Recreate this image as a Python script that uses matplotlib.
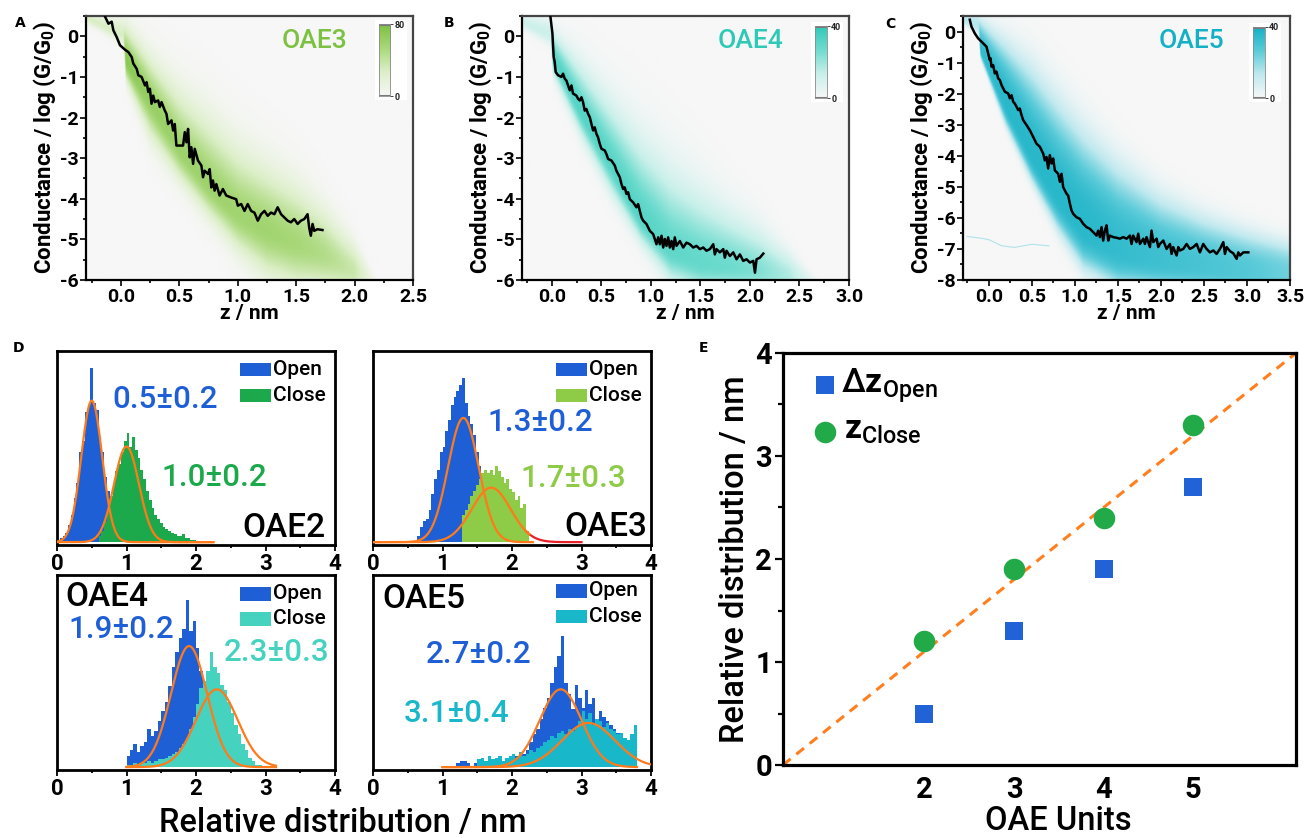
import numpy as np
import matplotlib
matplotlib.use("Agg")
import matplotlib.pyplot as plt
from matplotlib.colors import LinearSegmentedColormap
from matplotlib.patches import Rectangle
from matplotlib.ticker import MultipleLocator, FormatStrFormatter

plt.rcParams["font.family"] = ["Roboto", "DejaVu Sans"]
plt.rcParams["font.weight"] = "bold"
plt.rcParams["axes.unicode_minus"] = False
plt.rcParams["mathtext.fontset"] = "custom"
plt.rcParams["mathtext.rm"] = "Roboto:medium"
plt.rcParams["mathtext.bf"] = "Roboto:bold"
plt.rcParams["mathtext.it"] = "Roboto:italic"

# ---------------------------------------------------------------- data
# representative single traces (z / nm, log G/G0)
oae3_trace_z = [-0.136, -0.108, -0.080, -0.066, -0.037, -0.009, 0.034, 0.063, 0.091, 0.105,
                0.134, 0.148, 0.176, 0.205, 0.219, 0.233, 0.247, 0.261, 0.276, 0.290,
                0.318, 0.332, 0.347, 0.375, 0.389, 0.403, 0.432, 0.446, 0.460, 0.474,
                0.503, 0.531, 0.546, 0.560, 0.574, 0.588, 0.602, 0.617, 0.631, 0.659,
                0.688, 0.702, 0.716, 0.745, 0.759, 0.773, 0.787, 0.801, 0.816, 0.844,
                0.872, 0.901, 0.944, 0.986, 1.000, 1.029, 1.057, 1.085, 1.114, 1.142,
                1.171, 1.199, 1.228, 1.256, 1.284, 1.313, 1.341, 1.370, 1.398, 1.427,
                1.455, 1.483, 1.512, 1.540, 1.569, 1.597, 1.611, 1.625, 1.640, 1.654,
                1.682, 1.725]
oae3_trace_g = [0.48, 0.31, 0.36, 0.15, -0.02, -0.22, -0.33, -0.39, -0.51, -0.67,
                -0.80, -0.96, -1.00, -1.21, -1.13, -1.37, -1.29, -1.66, -1.46, -1.62,
                -1.58, -1.74, -1.62, -1.83, -1.91, -2.16, -2.07, -2.32, -2.16, -2.69,
                -2.69, -2.69, -2.36, -2.61, -2.28, -2.98, -2.73, -3.14, -2.77, -3.06,
                -3.18, -3.47, -3.31, -3.39, -3.27, -3.72, -3.55, -3.80, -3.64, -3.92,
                -3.76, -3.92, -3.97, -4.01, -4.17, -4.13, -4.30, -4.13, -4.30, -4.34,
                -4.54, -4.38, -4.30, -4.42, -4.34, -4.38, -4.21, -4.38, -4.46, -4.54,
                -4.58, -4.50, -4.62, -4.54, -4.50, -4.38, -4.71, -4.91, -4.62, -4.79,
                -4.75, -4.77]

oae4_trace_z = [-0.013, 0.007, 0.014, 0.020, 0.030, 0.040, 0.064, 0.098, 0.114, 0.131,
                0.148, 0.165, 0.182, 0.199, 0.215, 0.249, 0.266, 0.283, 0.300, 0.316,
                0.333, 0.350, 0.367, 0.384, 0.401, 0.418, 0.434, 0.451, 0.468, 0.485,
                0.502, 0.535, 0.552, 0.569, 0.603, 0.636, 0.653, 0.670, 0.687, 0.704,
                0.721, 0.737, 0.754, 0.771, 0.788, 0.822, 0.855, 0.872, 0.889, 0.906,
                0.923, 0.956, 0.990, 1.024, 1.057, 1.074, 1.091, 1.108, 1.125, 1.141,
                1.158, 1.175, 1.192, 1.209, 1.226, 1.242, 1.259, 1.293, 1.327, 1.360,
                1.394, 1.428, 1.461, 1.495, 1.529, 1.562, 1.596, 1.630, 1.646, 1.663,
                1.697, 1.731, 1.747, 1.764, 1.798, 1.832, 1.865, 1.899, 1.933, 1.966,
                2.000, 2.034, 2.051, 2.067, 2.101, 2.135]
oae4_trace_g = [0.48, 0.07, -0.26, -0.51, -0.63, -0.88, -0.96, -1.00, -0.92, -1.04,
                -1.09, -1.21, -1.33, -1.21, -1.41, -1.46, -1.54, -1.58, -1.50, -1.62,
                -1.83, -1.79, -1.91, -1.99, -2.16, -2.32, -2.24, -2.40, -2.49, -2.65,
                -2.77, -2.81, -2.90, -3.02, -3.06, -3.18, -3.31, -3.39, -3.47, -3.64,
                -3.76, -3.72, -3.88, -3.84, -4.01, -4.09, -4.21, -4.13, -4.30, -4.46,
                -4.54, -4.62, -4.79, -4.87, -5.12, -4.95, -5.12, -4.91, -5.20, -4.99,
                -5.16, -4.95, -5.20, -5.04, -5.24, -4.95, -5.16, -5.04, -5.20, -5.08,
                -5.12, -5.20, -5.16, -5.24, -5.20, -5.28, -5.24, -5.12, -5.37, -5.24,
                -5.32, -5.24, -5.45, -5.28, -5.41, -5.32, -5.49, -5.37, -5.53, -5.49,
                -5.57, -5.53, -5.82, -5.49, -5.45, -5.35]

oae5_trace_z = [-0.221, -0.202, -0.163, -0.124, -0.066, -0.027, -0.008, 0.012, 0.019, 0.031,
                0.050, 0.070, 0.089, 0.109, 0.128, 0.147, 0.167, 0.186, 0.225, 0.244,
                0.264, 0.283, 0.302, 0.322, 0.341, 0.360, 0.380, 0.399, 0.438, 0.477,
                0.515, 0.554, 0.593, 0.632, 0.651, 0.670, 0.690, 0.709, 0.729, 0.748,
                0.767, 0.806, 0.826, 0.845, 0.864, 0.903, 0.922, 0.942, 0.961, 0.981,
                1.019, 1.058, 1.097, 1.136, 1.174, 1.213, 1.252, 1.271, 1.291, 1.310,
                1.329, 1.349, 1.368, 1.388, 1.407, 1.446, 1.484, 1.523, 1.562, 1.601,
                1.640, 1.659, 1.678, 1.717, 1.736, 1.756, 1.795, 1.814, 1.833, 1.872,
                1.891, 1.911, 1.950, 1.969, 1.988, 2.027, 2.066, 2.105, 2.124, 2.143,
                2.182, 2.202, 2.221, 2.260, 2.298, 2.337, 2.376, 2.415, 2.453, 2.492,
                2.531, 2.570, 2.609, 2.647, 2.686, 2.725, 2.744, 2.764, 2.802, 2.841,
                2.880, 2.899, 2.919, 2.958, 3.016]
oae5_trace_g = [0.38, 0.16, -0.06, -0.22, -0.38, -0.49, -0.70, -0.92, -0.86, -1.13,
                -1.08, -1.35, -1.29, -1.51, -1.56, -1.72, -1.83, -1.94, -1.99, -2.15,
                -2.05, -2.26, -2.32, -2.42, -2.53, -2.48, -2.69, -2.85, -3.01, -3.18,
                -3.39, -3.61, -3.71, -3.93, -4.15, -4.04, -4.41, -3.98, -4.25, -4.09,
                -4.47, -4.58, -4.84, -4.58, -5.01, -5.22, -5.28, -5.54, -5.76, -5.87,
                -5.98, -6.03, -6.19, -6.30, -6.35, -6.46, -6.57, -6.41, -6.62, -6.30,
                -6.73, -6.41, -6.24, -6.73, -6.57, -6.62, -6.64, -6.67, -6.62, -6.67,
                -6.57, -6.84, -6.57, -6.78, -6.51, -6.84, -6.67, -6.84, -6.62, -6.94,
                -6.41, -6.78, -6.67, -6.94, -6.84, -6.73, -7.00, -6.84, -7.16, -6.94,
                -7.21, -6.94, -7.05, -7.00, -6.84, -7.00, -6.94, -6.84, -7.11, -6.84,
                -7.00, -7.11, -7.05, -7.16, -7.00, -6.78, -7.16, -6.94, -7.07, -7.14,
                -7.32, -7.11, -7.21, -7.11, -7.11]

# 2D trace-density bands: z knots with lower edge, densest ridge, upper edge, weight
oae3_band_z    = [-0.30, 0.02, 0.04, 0.25, 0.50, 0.75, 1.00, 1.25, 1.50, 1.75, 2.00, 2.20]
oae3_band_low  = [0.25, -0.30, -1.25, -2.8, -3.8, -4.7, -5.6, -6.3, -6.6, -6.6, -6.6, -6.6]
oae3_band_core = [0.45, 0.00, -0.60, -1.6, -2.8, -3.7, -4.4, -4.8, -5.1, -5.4, -5.8, -6.0]
oae3_band_high = [0.60, 0.60, 0.50, -0.2, -0.9, -1.5, -2.2, -2.7, -3.2, -3.9, -4.8, -6.0]
oae3_band_amp  = [0.35, 0.35, 0.90, 0.80, 0.75, 0.75, 0.72, 0.72, 0.68, 0.60, 0.45, 0.00]

oae4_band_z    = [-0.30, -0.01, 0.01, 0.30, 0.60, 0.90, 1.20, 1.50, 1.80, 2.10, 2.40, 2.70]
oae4_band_low  = [0.10, -0.35, -1.10, -2.7, -4.1, -5.3, -6.3, -6.6, -6.6, -6.6, -6.6, -6.6]
oae4_band_core = [0.35, 0.00, -0.50, -1.9, -3.2, -4.5, -5.3, -5.6, -5.7, -5.8, -5.9, -6.0]
oae4_band_high = [0.60, 0.60, 0.30, -0.4, -1.2, -2.0, -2.7, -3.3, -3.9, -4.4, -5.1, -6.0]
oae4_band_amp  = [0.30, 0.30, 0.80, 0.80, 0.80, 0.80, 0.75, 0.72, 0.68, 0.60, 0.42, 0.00]

oae5_band_z    = [-0.30, -0.12, -0.10, 0.20, 0.50, 0.80, 1.10, 1.50, 2.00, 2.50, 3.00, 3.50]
oae5_band_low  = [0.20, -0.20, -0.90, -3.2, -5.0, -6.6, -7.9, -8.5, -8.5, -8.5, -8.5, -8.5]
oae5_band_core = [0.40, 0.20, -0.60, -2.4, -4.0, -5.3, -6.3, -7.0, -7.4, -7.6, -7.8, -7.9]
oae5_band_high = [0.60, 0.60, 0.50, -0.1, -0.8, -1.8, -2.8, -3.9, -5.0, -5.7, -6.2, -6.6]
oae5_band_amp  = [0.35, 0.35, 0.85, 0.90, 0.90, 0.90, 0.90, 0.85, 0.80, 0.75, 0.70, 0.60]

oae5_stray_z = [-0.25, -0.10, 0.00, 0.15, 0.30, 0.50, 0.70]
oae5_stray_g = [-6.60, -6.65, -6.70, -6.90, -6.95, -6.85, -6.90]

colorbar_max = [80, 40, 40]

# relative distribution histograms (bin start, bin width, counts)
oae2_open_start, oae2_open_width = 0.0, 0.04
oae2_open_counts = [1, 2, 3, 5, 9, 14, 23, 31, 47, 53, 68, 72, 91, 73, 69, 55, 47, 34, 27, 16, 10, 4]
oae2_close_start, oae2_close_width = 0.60, 0.04
oae2_close_counts = [3, 6, 11, 17, 24, 30, 37, 41, 47, 53, 57, 50, 55, 48, 44, 38, 33, 27, 22, 18,
                     14, 12, 10, 8, 7, 6, 5, 4, 3, 3, 4, 2, 2, 1, 1]

oae3_open_start, oae3_open_width = 0.64, 0.04
oae3_open_counts = [3, 8, 11, 12, 17, 25, 33, 38, 47, 50, 58, 64, 72, 76, 79, 82, 86, 73, 66, 62,
                    56, 47, 40, 33, 26, 20, 14, 9, 5]
oae3_close_start, oae3_close_width = 1.28, 0.04
oae3_close_counts = [14, 17, 20, 24, 27, 30, 33, 36, 38, 36, 38, 35, 40, 37, 34, 31, 33, 28, 26, 22,
                     24, 18, 20, 6]

oae4_open_start, oae4_open_width = 1.0, 0.05
oae4_open_counts = [6, 9, 12, 8, 11, 13, 20, 16, 19, 24, 29, 34, 42, 52, 60, 67, 72, 87, 71, 76,
                    62, 50, 41, 33, 25, 18, 13, 9, 6, 4, 2, 1]
oae4_close_start, oae4_close_width = 1.0, 0.05
oae4_close_counts = [1, 1, 2, 1, 2, 2, 3, 2, 3, 4, 4, 5, 6, 7, 8, 10, 12, 15, 20, 26,
                     33, 41, 45, 50, 60, 52, 49, 43, 40, 34, 28, 22, 17, 12, 9, 5, 3, 1, 1, 0]

oae5_open_start, oae5_open_width = 1.0, 0.05
oae5_open_counts = [0, 0, 0, 0, 2, 3, 3, 2, 0, 2, 3, 2, 3, 4, 3, 2, 4, 3, 4, 5,
                    4, 6, 5, 7, 9, 13, 17, 20, 25, 31, 36, 44, 52, 58, 68, 44, 38, 30, 43, 36,
                    31, 40, 33, 36, 25, 29, 26, 24, 22, 20, 18, 16, 15, 14, 12, 10]
oae5_close_start, oae5_close_width = 1.0, 0.05
oae5_close_counts = [0, 0, 0, 0, 0, 0, 0, 0, 0, 0, 4, 5, 3, 6, 4, 5, 6, 3, 5, 6,
                     7, 5, 8, 6, 7, 9, 8, 10, 11, 13, 14, 16, 15, 18, 19, 17, 20, 19, 21, 24,
                     29, 25, 28, 22, 25, 24, 21, 23, 20, 19, 17, 18, 15, 14, 17, 22]

# Gaussian fits: centre and spread as printed, drawn width and peak height
open_mean   = [0.5, 1.3, 1.9, 2.7]
open_spread = [0.2, 0.2, 0.2, 0.2]
open_sigma  = [0.15, 0.22, 0.26, 0.30]
open_peak   = [74, 65, 63, 40.5]
close_mean   = [1.0, 1.7, 2.3, 3.1]
close_spread = [0.2, 0.3, 0.3, 0.4]
close_sigma  = [0.18, 0.28, 0.30, 0.38]
close_peak   = [50, 28.5, 40.5, 23]

# summary vs. number of OAE units
oae_units = [2, 3, 4, 5]
dz_open = [0.5, 1.3, 1.9, 2.7]
z_close = [1.2, 1.9, 2.4, 3.3]
fit_slope, fit_intercept = 0.698, -0.293

# ---------------------------------------------------------------- figure
W, H = 1305, 838
fig = plt.figure(figsize=(W / 100, H / 100), dpi=100)
fig.patch.set_facecolor("white")


def rect(l, t, r, b):
    return [l / W, 1 - b / H, (r - l) / W, (b - t) / H]


def bold_ticks(ax):
    for t in ax.get_xticklabels() + ax.get_yticklabels():
        t.set_fontweight("bold")


BLUE = "#1f5fd6"
ORANGE = "#ff7a1a"


def density_panel(box, xlim, ylim, band, shape, trace, colors, name, cbar_box, cmax,
                  letter, letter_xy):
    ax = fig.add_axes(rect(*box))
    cmap = LinearSegmentedColormap.from_list("band", colors)
    bz, blo, bco, bhi, bam = band
    power, scale = shape
    zz = np.linspace(xlim[0], xlim[1], 700)
    yy = np.linspace(ylim[0], ylim[1], 500)
    lo = np.interp(zz, bz, blo)
    co = np.interp(zz, bz, bco)
    hi = np.interp(zz, bz, bhi)
    am = np.interp(zz, bz, bam, left=0, right=0)
    Y = yy[:, None]
    wb = np.maximum(co - lo, 0.05) / scale
    wa = np.maximum(hi - co, 0.05) / scale
    d = np.where(Y < co, (Y - co) / wb, (Y - co) / wa)
    img = am * np.exp(-np.abs(d) ** power)
    ax.set_facecolor("#f7f7f7")
    ax.imshow(img, extent=[xlim[0], xlim[1], ylim[0], ylim[1]], origin="lower",
              aspect="auto", cmap=cmap, vmin=0, vmax=1, interpolation="bilinear", zorder=0)
    ax.plot(trace[0], trace[1], color="black", lw=1.8, zorder=3)
    ax.set_xlim(*xlim)
    ax.set_ylim(*ylim)
    ax.xaxis.set_major_locator(MultipleLocator(0.5))
    ax.xaxis.set_minor_locator(MultipleLocator(0.25))
    ax.xaxis.set_major_formatter(FormatStrFormatter("%.1f"))
    ax.yaxis.set_major_locator(MultipleLocator(1))
    ax.yaxis.set_minor_locator(MultipleLocator(0.5))
    ax.tick_params(which="both", direction="out", width=1.2, labelsize=14, pad=1.5)
    ax.tick_params(which="major", length=4)
    ax.tick_params(which="minor", length=2.5)
    bold_ticks(ax)
    for s in ax.spines.values():
        s.set_linewidth(1.6)
    ax.spines["top"].set_color("#444444")
    ax.spines["right"].set_color("#444444")
    ax.set_xlabel("z / nm", fontsize=15, fontweight="bold", labelpad=-1)
    ax.set_ylabel(r"Conductance / log (G/G$_\mathbf{0}$)", fontsize=16, fontweight="bold",
                  labelpad=1)
    ax.text(0.70, 0.905, name, transform=ax.transAxes, color=colors[-1], fontsize=19,
            fontweight="medium", ha="center", va="center")
    # colour scale
    ax.add_patch(Rectangle(((cbar_box[0] - 4 - box[0]) / (box[2] - box[0]),
                            (box[3] - cbar_box[3] - 4) / (box[3] - box[1])),
                           32 / (box[2] - box[0]), (cbar_box[3] - cbar_box[1] + 8) / (box[3] - box[1]),
                           transform=ax.transAxes, facecolor="white", edgecolor="none", zorder=2))
    cax = fig.add_axes(rect(*cbar_box))
    grad = np.linspace(0, 1, 200)[:, None]
    cax.imshow(grad, aspect="auto", origin="lower", cmap=cmap, extent=[0, 1, 0, cmax])
    cax.set_xticks([])
    cax.yaxis.tick_right()
    cax.set_yticks([0, cmax])
    cax.set_yticklabels(["0", str(cmax)])
    cax.tick_params(axis="y", length=2.5, width=0.6, pad=0.5, labelsize=6.5, colors="#222222")
    for s in cax.spines.values():
        s.set_color("#8a8a8a")
        s.set_linewidth(0.6)
    cax.axhline(cmax, color="#7a7a7a", lw=2.2)
    cax.axhline(0, color="#7a7a7a", lw=2.2)
    fig.text(letter_xy[0] / W, 1 - letter_xy[1] / H, letter, fontsize=10, fontweight="bold",
             ha="center", va="center", family="DejaVu Sans")
    return ax


axA = density_panel((86, 16, 413, 280), (-0.3, 2.5), (-6, 0.5),
                    (oae3_band_z, oae3_band_low, oae3_band_core, oae3_band_high, oae3_band_amp),
                    (2.0, 1.5), (oae3_trace_z, oae3_trace_g),
                    ["#f7f7f7", "#dcefc8", "#a9d87a", "#7dc142"], "OAE3",
                    (379, 24, 390, 96), colorbar_max[0], "A", (20, 23))
axB = density_panel((522, 16, 849, 280), (-0.3, 3.0), (-6, 0.5),
                    (oae4_band_z, oae4_band_low, oae4_band_core, oae4_band_high, oae4_band_amp),
                    (2.0, 1.5), (oae4_trace_z, oae4_trace_g),
                    ["#f7f7f7", "#c8f0ea", "#70dccf", "#2fc9b7"], "OAE4",
                    (815, 26, 827, 98), colorbar_max[1], "B", (449, 23))
axC = density_panel((963, 16, 1290, 280), (-0.3, 3.5), (-8, 0.5),
                    (oae5_band_z, oae5_band_low, oae5_band_core, oae5_band_high, oae5_band_amp),
                    (3.0, 1.25), (oae5_trace_z, oae5_trace_g),
                    ["#f7f7f7", "#bfe9ef", "#5ccbd9", "#14b0c5"], "OAE5",
                    (1253, 27, 1265, 98), colorbar_max[2], "C", (890, 24))
axC.plot(oae5_stray_z, oae5_stray_g, color="#8fdbe5", lw=0.8, alpha=0.7, zorder=1)


# ---------------------------------------------------------------- D: histograms
def edges(start, width, counts):
    return start + width * np.arange(len(counts) + 1)


def dist_panel(box, k, name, name_pos, open_hist, close_hist, close_color,
               open_txt_pos, close_txt_pos, legend_y, fit_ranges, close_tail=None):
    ax = fig.add_axes(rect(*box))
    o_start, o_w, o_counts = open_hist
    c_start, c_w, c_counts = close_hist
    ax.stairs(o_counts, edges(o_start, o_w, o_counts), fill=True, color=BLUE, lw=0, zorder=1)
    ax.stairs(c_counts, edges(c_start, c_w, c_counts), fill=True, color=close_color, lw=0, zorder=2)
    xo = np.linspace(*fit_ranges[0], 400)
    ax.plot(xo, open_peak[k] * np.exp(-0.5 * ((xo - open_mean[k]) / open_sigma[k]) ** 2),
            color=ORANGE, lw=1.6, zorder=4)
    xc = np.linspace(*fit_ranges[1], 400)
    ax.plot(xc, close_peak[k] * np.exp(-0.5 * ((xc - close_mean[k]) / close_sigma[k]) ** 2),
            color=ORANGE, lw=1.6, zorder=4)
    if close_tail is not None:
        xt = np.linspace(*close_tail, 200)
        ax.plot(xt, close_peak[k] * np.exp(-0.5 * ((xt - close_mean[k]) / close_sigma[k]) ** 2),
                color="#e8202a", lw=1.6, zorder=3)
    ax.set_xlim(0, 4)
    ax.set_ylim(-1.5, 100)
    ax.set_yticks([])
    ax.xaxis.set_major_locator(MultipleLocator(1))
    ax.xaxis.set_minor_locator(MultipleLocator(0.5))
    ax.tick_params(axis="x", which="both", direction="out", width=1.3, labelsize=16, pad=2)
    ax.tick_params(axis="x", which="major", length=4)
    ax.tick_params(axis="x", which="minor", length=2.5)
    bold_ticks(ax)
    for s in ax.spines.values():
        s.set_linewidth(2.0)
    ax.text(name_pos[0], name_pos[1], name, transform=ax.transAxes, fontsize=24,
            fontweight="medium", ha=name_pos[2], va="center")
    ax.text(open_txt_pos[0], open_txt_pos[1], f"{open_mean[k]:.1f}±{open_spread[k]:.1f}",
            transform=ax.transAxes, color=BLUE, fontsize=22.5, fontweight="medium",
            ha="center", va="center")
    ax.text(close_txt_pos[0], close_txt_pos[1], f"{close_mean[k]:.1f}±{close_spread[k]:.1f}",
            transform=ax.transAxes, color=close_color, fontsize=22.5, fontweight="medium",
            ha="center", va="center")
    for (lab, col, yc) in (("Open", BLUE, legend_y[0]), ("Close", close_color, legend_y[1])):
        ax.add_patch(Rectangle((0.659, yc - 0.034), 0.109, 0.068, transform=ax.transAxes,
                               facecolor=col, edgecolor="none", zorder=5))
        ax.text(0.778, yc, lab, transform=ax.transAxes, fontsize=15, fontweight="medium",
                ha="left", va="center", zorder=5)
    return ax


dist_panel((57, 351, 335, 545), 0, "OAE2", (0.965, 0.09, "right"),
           (oae2_open_start, oae2_open_width, oae2_open_counts),
           (oae2_close_start, oae2_close_width, oae2_close_counts), "#1ca94b",
           (0.39, 0.75), (0.566, 0.347), (0.903, 0.772), ((0.0, 2.25), (0.0, 2.25)))
dist_panel((373, 351, 651, 545), 1, "OAE3", (0.985, 0.095, "right"),
           (oae3_open_start, oae3_open_width, oae3_open_counts),
           (oae3_close_start, oae3_close_width, oae3_close_counts), "#8ecb47",
           (0.60, 0.63), (0.72, 0.345), (0.903, 0.772), ((0.0, 2.3), (0.0, 2.25)),
           close_tail=(2.2, 3.0))
dist_panel((57, 575, 335, 770), 2, "OAE4", (0.03, 0.887, "left"),
           (oae4_open_start, oae4_open_width, oae4_open_counts),
           (oae4_close_start, oae4_close_width, oae4_close_counts), "#45d3c0",
           (0.231, 0.718), (0.79, 0.605), (0.903, 0.775), ((1.0, 3.15), (1.0, 3.15)))
dist_panel((373, 575, 651, 770), 3, "OAE5", (0.035, 0.875, "left"),
           (oae5_open_start, oae5_open_width, oae5_open_counts),
           (oae5_close_start, oae5_close_width, oae5_close_counts), "#19b7ca",
           (0.379, 0.59), (0.30, 0.29), (0.918, 0.788), ((1.0, 3.8), (1.0, 4.0)))

fig.text(343 / W, 1 - 823 / H, "Relative distribution / nm", fontsize=23.5,
         fontweight="medium", ha="center", va="center")
fig.text(19 / W, 1 - 348 / H, "D", fontsize=10, fontweight="bold", ha="center", va="center",
         family="DejaVu Sans")

# ---------------------------------------------------------------- E: summary
axE = fig.add_axes(rect(783, 353, 1296, 765))
axE.set_xlim(0.42, 6.15)
axE.set_ylim(0, 4)
xl = np.array(axE.get_xlim())
axE.plot(xl, fit_slope * xl + fit_intercept, color="#ff7f1e", lw=2.2,
         dashes=(3.2, 2.4), zorder=1)
axE.plot(oae_units, dz_open, "s", color="#2162d6", ms=13, mew=0, zorder=3)
axE.plot(oae_units, z_close, "o", color="#22aa48", ms=15.5, mew=0, zorder=3)
axE.set_xticks(oae_units)
axE.yaxis.set_major_locator(MultipleLocator(1))
axE.yaxis.set_minor_locator(MultipleLocator(0.5))
axE.tick_params(axis="x", length=0, labelsize=21, pad=8)
axE.tick_params(axis="y", which="both", direction="out", width=1.6, labelsize=21, pad=2)
axE.tick_params(axis="y", which="major", length=6)
axE.tick_params(axis="y", which="minor", length=3.5)
bold_ticks(axE)
for s in axE.spines.values():
    s.set_linewidth(2.3)
axE.set_xlabel("OAE Units", fontsize=23.5, fontweight="medium")
axE.xaxis.set_label_coords(0.536, -0.098)
axE.set_ylabel("Relative distribution / nm", fontsize=23.5, fontweight="medium", labelpad=3)
axE.plot([0.082], [0.922], "s", transform=axE.transAxes, color="#2162d6", ms=13, mew=0)
axE.plot([0.082], [0.808], "o", transform=axE.transAxes, color="#22aa48", ms=15.5, mew=0)
axE.text(0.113, 0.905, r"$\Delta\mathbf{z}_{\mathrm{Open}}$", transform=axE.transAxes,
         fontsize=24, ha="left", va="baseline")
axE.text(0.118, 0.793, r"$\mathbf{z}_{\mathrm{Close}}$", transform=axE.transAxes,
         fontsize=24, ha="left", va="baseline")
fig.text(703 / W, 1 - 348 / H, "E", fontsize=10, fontweight="bold", ha="center", va="center",
         family="DejaVu Sans")

fig.savefig("out.png", dpi=100)
